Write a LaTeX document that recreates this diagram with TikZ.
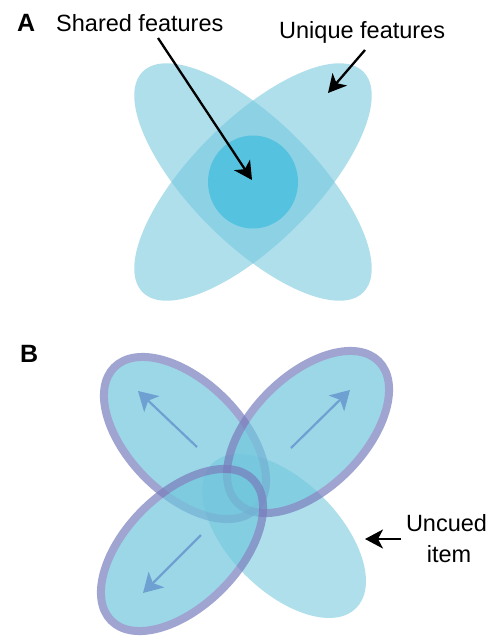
\documentclass[tikz,border=0pt]{standalone}
\usepackage{fontspec}
\setmainfont{Liberation Sans}
\usetikzlibrary{arrows.meta}
\definecolor{lobeA}{RGB}{176,223,236}
\definecolor{pairA}{RGB}{141,209,229}
\definecolor{coreA}{RGB}{85,194,223}
\definecolor{baseB}{RGB}{113,198,221}
\definecolor{rimB}{RGB}{120,125,188}
\definecolor{vecB}{RGB}{110,160,210}
\begin{document}
\begin{tikzpicture}[x=1pt,y=-1pt,
  lbl/.style={font=\fontsize{23.5}{28}\selectfont, inner sep=0pt},
  panel/.style={font=\bfseries\fontsize{25}{30}\selectfont, inner sep=0pt},
  pointer/.style={line width=2.3pt, -{Stealth[length=18pt,width=19pt,inset=5pt]}},
  vecarrow/.style={draw=vecB, line width=2.2pt, -{Stealth[length=19pt,width=22pt,inset=5pt]}},
  cuedgroup/.style={transparency group, opacity=0.7},
  cued/.style={fill=baseB, draw=rimB, line width=8pt},
  uncued/.style={fill=baseB, fill opacity=0.557},
]
\useasboundingbox (0,0) rectangle (493,640);

% ---------- Panel A ----------
\fill[lobeA, rotate around={45:(253,182)}] (253,182) ellipse [x radius=156, y radius=62];
\fill[lobeA, rotate around={-45:(253,182)}] (253,182) ellipse [x radius=156, y radius=62];
\begin{scope}
  \clip[rotate around={45:(253,182)}] (253,182) ellipse [x radius=156, y radius=62];
  \fill[pairA, rotate around={-45:(253,182)}] (253,182) ellipse [x radius=156, y radius=62];
\end{scope}
\fill[coreA] (253,182) ellipse [x radius=45, y radius=46.5];

\node[panel, anchor=base west] (labA) at (17,31) {A};
\node[lbl, anchor=base west] (shared) at (56,31) {Shared features};
\node[lbl, anchor=base west] (unique) at (279,38) {Unique features};

\coordinate (sharedTail) at (158,38);
\coordinate (sharedTip) at (252,180);
\coordinate (uniqueTail) at (365,50);
\coordinate (uniqueTip) at (328,93);
\draw[pointer] (sharedTail) -- (sharedTip);
\draw[pointer] (uniqueTail) -- (uniqueTip);

% ---------- Panel B ----------
\path[uncued, rotate around={-45:(284,536)}] (284,536) ellipse [x radius=102, y radius=55];
\begin{scope}[cuedgroup]
  \path[cued, rotate around={-45:(185,438)}] (185,438) ellipse [x radius=100, y radius=56];
\end{scope}
\begin{scope}[cuedgroup]
  \path[cued, rotate around={45:(308,432)}] (308,432) ellipse [x radius=100, y radius=56];
\end{scope}
\begin{scope}[cuedgroup]
  \path[cued, rotate around={45:(182,550)}] (182,550) ellipse [x radius=100, y radius=56];
\end{scope}

\coordinate (tlTail) at (197,447);
\coordinate (tlTip) at (138,391);
\coordinate (trTail) at (291,448);
\coordinate (trTip) at (350,390);
\coordinate (blTail) at (201,535);
\coordinate (blTip) at (143,593);
\draw[vecarrow] (tlTail) -- (tlTip);
\draw[vecarrow] (trTail) -- (trTip);
\draw[vecarrow] (blTail) -- (blTip);

\node[panel, anchor=base west] (labB) at (20,362) {B};
\node[lbl, anchor=base] (uncuedText) at (446.5,531) {Uncued};
\node[lbl, anchor=base] (itemText) at (449,562) {item};
\coordinate (uncuedTail) at (401,539);
\coordinate (uncuedTip) at (365,539);
\draw[pointer] (uncuedTail) -- (uncuedTip);
\end{tikzpicture}
\end{document}
